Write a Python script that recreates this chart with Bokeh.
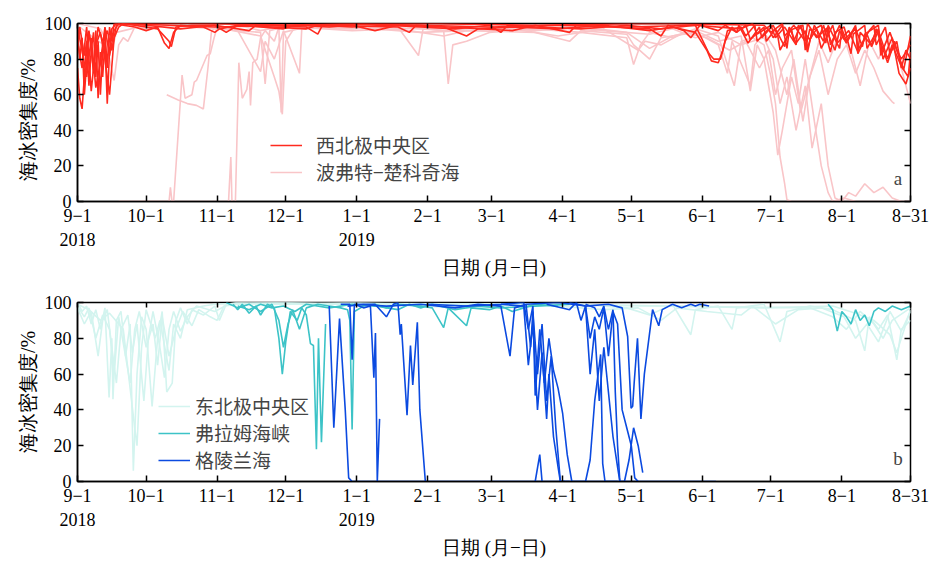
from bokeh.plotting import figure
from bokeh.layouts import column
from bokeh.models import Range1d, LinearAxis, FixedTicker, Legend, LegendItem, Label
from bokeh.embed import file_html
from bokeh.resources import INLINE

# x = day since 2018-09-01
month_ticks = [0, 30, 61, 91, 122, 153, 181, 212, 242, 273, 303, 334, 364]
month_labels = ["9−1\n2018", "10−1", "11−1", "12−1", "1−1\n2019", "2−1", "3−1",
                "4−1", "5−1", "6−1", "7−1", "8−1", "8−31"]
y_ticks = [0, 20, 40, 60, 80, 100]

# ---------------- panel a: 西北极中央区 (red) ----------------
nwc_days = [
    [0, 1, 2, 3, 4, 5, 6, 7, 8, 9, 10, 11, 12, 13, 14, 15, 16, 20, 25, 30, 35, 38, 40, 42, 45, 55, 60, 62, 70, 80, 90, 95, 110, 120, 130, 140, 160, 170, 175, 190, 210, 230, 250, 260, 270, 275, 277, 280, 282, 284, 290, 292, 296, 297, 302, 304, 308, 310, 311, 317, 318, 320, 324, 326, 329, 331, 335, 338, 339, 344, 345, 350, 352, 356, 359, 362, 364],
    [0, 1, 2, 3, 4, 5, 6, 7, 8, 9, 10, 11, 12, 13, 14, 15, 17, 25, 35, 40, 41, 43, 50, 60, 65, 70, 85, 100, 105, 120, 135, 150, 165, 180, 185, 188, 200, 220, 240, 255, 270, 276, 278, 281, 283, 286, 288, 289, 293, 298, 299, 304, 306, 307, 312, 313, 316, 319, 321, 325, 327, 328, 333, 334, 336, 340, 341, 346, 348, 349, 353, 355, 358, 360, 362, 364],
    [0, 2, 4, 6, 8, 10, 12, 14, 16, 18, 20, 40, 60, 90, 120, 150, 180, 210, 240, 270, 290, 295, 297, 303, 305, 309, 314, 315, 320, 323, 325, 330, 332, 337, 341, 342, 347, 349, 354, 357, 358, 361, 364],
    [0, 1, 3, 5, 7, 9, 11, 13, 15, 17, 20, 50, 100, 150, 200, 250, 300, 303, 308, 309, 313, 318, 319, 323, 328, 329, 333, 335, 340, 343, 344, 350, 351, 355, 357, 360, 364],
    [0, 2, 4, 6, 8, 10, 12, 14, 16, 18, 30, 45, 60, 75, 78, 100, 105, 107, 140, 145, 148, 190, 200, 215, 218, 250, 255, 258, 265, 268, 272, 280, 283, 288, 292, 294, 300, 301, 305, 309, 311, 314, 318, 319, 322, 326, 327, 331, 333, 336, 340, 341, 345, 347, 350, 354, 356, 360, 363, 364],
]
nwc_vals = [
    [75, 58, 52, 70, 90, 65, 85, 95, 70, 90, 60, 85, 95, 75, 98, 90, 100, 99, 98, 96, 98, 89, 86, 95, 99, 98, 95, 97, 99, 98, 97, 99, 98, 99, 96, 99, 98, 93, 97, 98, 97, 99, 96, 98, 95, 85, 79, 78, 85, 96, 98, 93, 99, 90, 97, 92, 99, 86, 96, 99, 85, 97, 92, 99, 84, 95, 98, 83, 94, 99, 86, 97, 80, 92, 72, 66, 75],
    [95, 80, 92, 60, 78, 95, 88, 72, 96, 58, 84, 70, 90, 55, 85, 97, 100, 99, 97, 90, 87, 98, 99, 99, 95, 99, 98, 97, 99, 98, 99, 98, 97, 99, 95, 99, 98, 97, 99, 97, 99, 83, 80, 80, 90, 98, 95, 99, 89, 98, 92, 99, 93, 85, 97, 90, 99, 84, 96, 99, 89, 99, 86, 97, 90, 99, 85, 96, 99, 88, 98, 83, 90, 75, 85, 80],
    [90, 75, 98, 62, 88, 95, 80, 60, 92, 98, 100, 99, 98, 99, 100, 99, 98, 99, 98, 99, 97, 100, 94, 99, 92, 98, 88, 99, 91, 97, 86, 99, 89, 96, 84, 95, 88, 97, 78, 90, 85, 74, 93],
    [85, 98, 82, 96, 74, 98, 90, 96, 85, 99, 100, 100, 99, 100, 99, 100, 99, 95, 100, 93, 99, 90, 100, 92, 98, 88, 99, 91, 97, 87, 94, 99, 82, 95, 88, 80, 88],
    [98, 85, 70, 92, 64, 78, 98, 82, 96, 100, 99, 97, 99, 96, 99, 98, 94, 99, 98, 95, 99, 96, 99, 95, 99, 97, 93, 99, 96, 92, 99, 96, 99, 95, 99, 91, 98, 90, 97, 87, 98, 89, 96, 86, 99, 90, 97, 85, 96, 89, 98, 83, 94, 87, 96, 80, 88, 76, 70, 84],
]

# ---------------- panel a: 波弗特-楚科奇海 (pink) ----------------
bcs_days = [
    [0, 3, 6, 9, 12, 14, 16, 18, 20, 22, 25, 30, 40, 60, 80, 82, 84, 90, 100, 120, 140, 149, 151, 160, 162, 164, 170, 180, 200, 220, 240, 243, 246, 250, 260, 270, 280, 287, 290, 295, 300, 303, 305, 307, 309, 310, 312, 364],
    [18, 40, 40.6, 41.3, 42, 45.7, 47, 50, 51, 52, 56.6, 58, 59.5, 61, 65, 70, 80, 88, 89, 90, 100, 120, 140, 160, 180, 200, 220, 240, 250, 260, 270, 280, 290, 294, 297, 300, 304, 306, 308, 312, 315, 318, 322, 325, 328, 330, 335, 340],
    [39, 44, 48, 52, 55, 57, 58.5, 60, 70, 80, 82, 86, 90, 97, 98, 110, 130, 150, 170, 190, 210, 230, 245, 248, 255, 265, 275, 285, 292, 298, 302, 305, 308, 312, 316, 320, 324, 328, 332, 336, 340, 344, 348, 352, 356, 357],
    [18, 60, 66, 67, 67.5, 69, 70.5, 72, 74, 75, 75.6, 76.6, 78.5, 80, 82, 86, 88, 95, 110, 130, 150, 170, 190, 210, 230, 250, 260, 270, 280, 290, 300, 304, 307, 310, 314, 318, 321, 325, 328, 331, 334, 337, 340, 344, 348, 352, 356, 360, 364],
    [0, 10, 15, 17, 30, 60, 80, 86, 88, 89.5, 91, 95, 120, 140, 160, 170, 200, 215, 220, 240, 243, 250, 255, 270, 280, 284, 286, 294, 296, 300, 305, 310, 313, 317, 320, 324, 328, 333, 338, 342, 346, 350, 354, 358, 361, 364],
]
bcs_vals = [
    [99, 96, 93, 90, 88, 80, 68, 88, 92, 90, 98, 97, 99, 97, 95, 66, 96, 98, 97, 99, 98, 82, 97, 96, 66, 88, 90, 95, 97, 95, 92, 77, 88, 95, 92, 97, 93, 65, 90, 92, 88, 70, 55, 25, 10, 1, 0, 0],
    [0, 0, 8, 0, 0, 71, 58, 60, 67, 68, 82, 83, 91, 98, 97, 99, 96, 98, 50, 95, 98, 97, 99, 96, 98, 96, 98, 95, 86, 93, 96, 90, 93, 62, 88, 80, 50, 26, 40, 70, 55, 80, 45, 20, 5, 0, 2, 0],
    [60, 57, 55, 54, 52, 75, 95, 98, 96, 73, 90, 80, 96, 72, 97, 98, 97, 95, 96, 97, 93, 97, 85, 90, 88, 95, 92, 85, 90, 75, 85, 60, 75, 85, 50, 70, 85, 60, 80, 88, 72, 85, 75, 62, 56, 55],
    [0, 0, 0, 25, 0, 0, 78, 58, 63, 73, 54, 78, 80, 92, 96, 90, 98, 97, 99, 98, 97, 98, 96, 99, 96, 94, 97, 92, 95, 88, 92, 80, 55, 70, 40, 65, 30, 55, 20, 2, 0, 5, 3, 10, 5, 8, 2, 0, 0],
    [100, 97, 85, 95, 99, 98, 93, 70, 62, 49, 90, 98, 96, 97, 93, 96, 95, 90, 96, 94, 88, 80, 92, 95, 88, 72, 90, 65, 88, 95, 85, 60, 80, 45, 70, 90, 78, 95, 85, 65, 90, 80, 92, 85, 70, 55],
]

# ---------------- panel b: 东北极中央区 (pale cyan) ----------------
enc_days = [
    [0, 2, 4, 6, 8, 10, 12, 13.8, 15, 15.5, 17, 19, 21, 23, 24.4, 26, 28, 30, 32.6, 35, 37, 39, 41.4, 43, 45, 48, 50, 55, 60, 62, 65, 70, 80, 100, 120, 140, 160, 180, 200, 220, 240, 250, 260, 268, 270, 280, 286, 288, 300, 307, 310, 320, 330, 340, 344, 346, 350, 354, 358, 360, 364],
    [0, 3, 5, 8, 11, 14, 16, 18, 21.4, 23, 25, 27, 30, 33, 35, 37, 40, 43, 46, 50, 53, 58, 61, 64, 70, 90, 110, 130, 150, 170, 190, 210, 230, 245, 255, 262, 275, 290, 295, 305, 315, 325, 335, 340, 345, 350, 355, 360, 364],
    [0, 5, 10, 14, 20, 25, 26, 28, 30, 34, 36, 40, 42, 45, 48, 55, 60, 80, 120, 200, 260, 300, 330, 340, 348, 355, 358, 362, 364],
    [0, 3, 6, 9, 11, 13, 15, 17, 19, 22, 24, 26, 29, 31, 33, 36, 38, 40, 42, 45, 48, 52, 60, 66, 70, 200, 320, 330, 336, 342, 348, 352, 356, 364],
]
enc_vals = [
    [100, 95, 98, 88, 96, 85, 97, 47, 80, 46, 90, 95, 70, 88, 6, 60, 92, 85, 42, 80, 95, 50, 55, 90, 97, 88, 96, 93, 98, 90, 99, 100, 99, 99, 100, 99, 98, 99, 98, 99, 97, 93, 99, 82, 96, 98, 85, 97, 99, 78, 95, 98, 96, 90, 73, 92, 85, 93, 68, 85, 90],
    [98, 92, 97, 80, 93, 85, 60, 92, 67, 55, 85, 95, 75, 88, 65, 92, 70, 85, 95, 87, 96, 92, 90, 98, 99, 100, 99, 99, 98, 97, 99, 98, 96, 97, 90, 97, 95, 93, 98, 88, 96, 97, 92, 80, 88, 78, 95, 84, 95],
    [99, 96, 90, 94, 85, 30, 20, 75, 96, 80, 90, 62, 88, 80, 96, 98, 99, 100, 99, 99, 98, 97, 98, 94, 90, 82, 72, 88, 96],
    [97, 88, 95, 70, 90, 96, 75, 55, 85, 93, 72, 88, 45, 80, 95, 75, 58, 85, 95, 84, 92, 98, 95, 99, 100, 99, 97, 92, 85, 95, 88, 80, 90, 97],
]

# ---------------- panel b: 弗拉姆海峡 (teal) ----------------
fram_days = [
    [68, 70, 72, 75, 78, 80, 83, 86, 88, 89.5, 91, 93, 96, 98, 100, 101.8, 103.1, 104.4, 105.3, 106.6, 108.4],
    [65, 70, 75, 80, 85, 88, 90, 92, 94, 97, 100, 105, 110, 115, 118, 119, 120, 121, 125, 130, 135, 140, 150, 155, 160, 162, 170, 172, 180, 185, 190, 195, 200, 210],
    [70, 75, 80, 85, 90, 95, 100, 110, 120, 130, 140, 145, 150, 155, 165, 175, 185, 200, 215],
    [328, 330, 332, 334, 336, 338, 340, 342, 344, 346, 348, 350, 353, 356, 360, 364],
]
fram_vals = [
    [99, 96, 99, 94, 98, 93, 99, 97, 80, 60, 78, 95, 90, 97, 93, 77, 76, 18, 80, 22, 88],
    [100, 97, 99, 95, 99, 90, 75, 88, 96, 85, 97, 99, 98, 97, 96, 90, 29, 95, 98, 99, 97, 99, 98, 97, 86, 97, 87, 97, 96, 98, 95, 97, 99, 98],
    [98, 96, 99, 97, 98, 95, 99, 97, 99, 98, 96, 99, 97, 99, 96, 98, 97, 98, 99],
    [99, 96, 84, 95, 92, 88, 96, 90, 93, 87, 95, 97, 95, 98, 96, 98],
]

# ---------------- panel b: 格陵兰海 (blue) ----------------
grl_days = [
    [110, 112, 114.5, 117, 118.5, 120, 279],
    [115, 119, 120, 121, 125, 128, 129.5, 130.2, 131, 132],
    [118, 125, 130, 135, 138, 140, 141, 141.5, 144, 145.5, 146.5, 148.5, 149.6, 152],
    [122, 135, 150, 165, 175, 185, 189, 191, 196, 198, 199, 201, 203, 205, 207, 209, 211, 215],
    [153, 170, 185, 195, 197, 199, 200, 202, 204, 206, 208, 210, 212, 214, 216, 222, 224, 226, 228.6, 229.5, 230.5, 236],
    [200, 202, 203],
    [215, 222, 224, 226, 228, 230, 232, 234, 236, 238, 240, 242, 243.5, 245],
    [196, 210, 222, 232, 238, 240.4, 241.9, 242.6, 243.3, 244.7, 246.2, 247.7, 251.3, 254, 255.5, 260, 264, 268, 270, 272, 276],
    [185, 195, 197, 199, 201, 203, 205, 206, 208, 210, 211, 213],
    [205, 215, 218, 220, 222, 224, 226, 228, 230, 232, 234, 236, 237],
    [222, 226, 228, 230, 232, 234, 235, 236, 237, 239, 241, 243, 245, 247],
]
grl_vals = [
    [98, 30, 91, 40, 2, 0, 0],
    [99, 99, 68, 99, 97, 98, 58, 83, 0, 35],
    [98, 99, 99, 92, 99, 100, 82, 88, 37, 76, 54, 89, 40, 0],
    [99, 98, 99, 97, 99, 98, 70, 97, 99, 75, 95, 60, 88, 45, 70, 30, 0, 0],
    [99, 98, 99, 100, 85, 98, 48, 85, 55, 80, 62, 52, 38, 15, 0, 0, 12, 45, 71, 10, 0, 0],
    [0, 15, 0],
    [100, 98, 80, 92, 85, 97, 70, 95, 88, 40, 30, 20, 2, 0],
    [99, 100, 98, 99, 97, 81, 41, 42, 56, 80, 35, 60, 96, 87, 96, 99, 97, 99, 98, 99, 98],
    [99, 98, 65, 88, 40, 72, 35, 60, 25, 8, 0, 0],
    [99, 96, 100, 90, 98, 60, 85, 45, 75, 50, 25, 8, 0],
    [99, 97, 92, 98, 85, 96, 50, 20, 0, 0, 12, 30, 20, 5],
]

RED = "#ff2a1f"
PINK = "#f9c5c8"
PALE = "#d3f4ef"
TEAL = "#3cc3c7"
BLUE = "#0b4ae0"

SERIF = "Liberation Serif"
CJK = "Noto Sans CJK SC"


def make_panel(height, top, bottom, series, legend_loc, leg_spacing, leg_standoff, tag, ylab):
    p = figure(width=931, height=height, output_backend="svg", toolbar_location=None,
               x_range=Range1d(0, 364), y_range=Range1d(0, 100),
               min_border_left=77, min_border_right=21,
               min_border_top=top, min_border_bottom=bottom)
    p.xgrid.visible = False
    p.ygrid.visible = False
    p.outline_line_color = "black"
    p.outline_line_width = 1.5
    p.background_fill_color = "white"
    p.border_fill_color = "white"

    items = []
    for name, color, days_list, vals_list in series:
        rs = []
        for d, v in zip(days_list, vals_list):
            r = p.line(d, v, line_color=color, line_width=1.6)
            rs.append(r)
        items.append(LegendItem(label=name, renderers=[rs[0]]))

    xa = p.xaxis[0]
    xa.ticker = FixedTicker(ticks=month_ticks)
    xa.major_label_overrides = {t: l for t, l in zip(month_ticks, month_labels)}
    xa.axis_label = "日期 (月−日)"
    ya = p.yaxis[0]
    ya.ticker = FixedTicker(ticks=y_ticks)
    ya.axis_label = ylab
    for ax in (xa, ya):
        ax.major_tick_in = 6
        ax.major_tick_out = 0
        ax.minor_tick_line_color = None
        ax.axis_line_width = 1.5
        ax.major_tick_line_width = 1.5
        ax.major_label_text_font = SERIF
        ax.major_label_text_font_size = "18px"
        ax.major_label_text_color = "black"
        ax.axis_label_text_font = SERIF
        ax.axis_label_text_font_size = "19px"
        ax.axis_label_text_font_style = "normal"
        ax.axis_label_text_color = "black"
    ya.axis_label_text_font_size = "20px"
    xa.major_label_standoff = 4
    xa.axis_label_standoff = 4
    ya.major_label_standoff = 6
    ya.axis_label_standoff = 3

    top_ax = LinearAxis(ticker=FixedTicker(ticks=month_ticks), major_label_text_color=None,
                        major_tick_in=5, major_tick_out=0, minor_tick_line_color=None,
                        axis_line_color=None, major_tick_line_width=1.5)
    right_ax = LinearAxis(ticker=FixedTicker(ticks=y_ticks), major_label_text_color=None,
                          major_tick_in=6, major_tick_out=0, minor_tick_line_color=None,
                          axis_line_color=None, major_tick_line_width=1.5)
    p.add_layout(top_ax, "above")
    p.add_layout(right_ax, "right")

    leg = Legend(items=items, location=legend_loc, background_fill_alpha=0,
                 border_line_color=None, label_text_font=CJK, label_text_font_size="19px",
                 glyph_width=32, glyph_height=18, label_standoff=leg_standoff,
                 spacing=leg_spacing, padding=0, margin=0, label_height=18)
    p.add_layout(leg, "center")

    p.add_layout(Label(x=358.5, y=7, text=tag, text_font=SERIF, text_font_size="19px",
                       text_align="center", text_baseline="bottom"))
    return p


pa = make_panel(280, 23, 78,
                [("西北极中央区", RED, nwc_days, nwc_vals),
                 ("波弗特−楚科奇海", PINK, bcs_days, bcs_vals)],
                (193, 16), -5, 14, "a", "海冰密集度/%\u00a0\u00a0\u00a0")
# draw red over pink
red_r = pa.renderers[:len(nwc_days)]
pink_r = pa.renderers[len(nwc_days):]
pa.renderers = pink_r + red_r

pb = make_panel(281, 22, 80,
                [("东北极中央区", PALE, enc_days, enc_vals),
                 ("弗拉姆海峡", TEAL, fram_days, fram_vals),
                 ("格陵兰海", BLUE, grl_days, grl_vals)],
                (81, 8), -1, 5, "b", "海冰密集度/%")

layout = column(pa, pb, spacing=0)
open("out.html", "w").write(file_html(layout, INLINE))
